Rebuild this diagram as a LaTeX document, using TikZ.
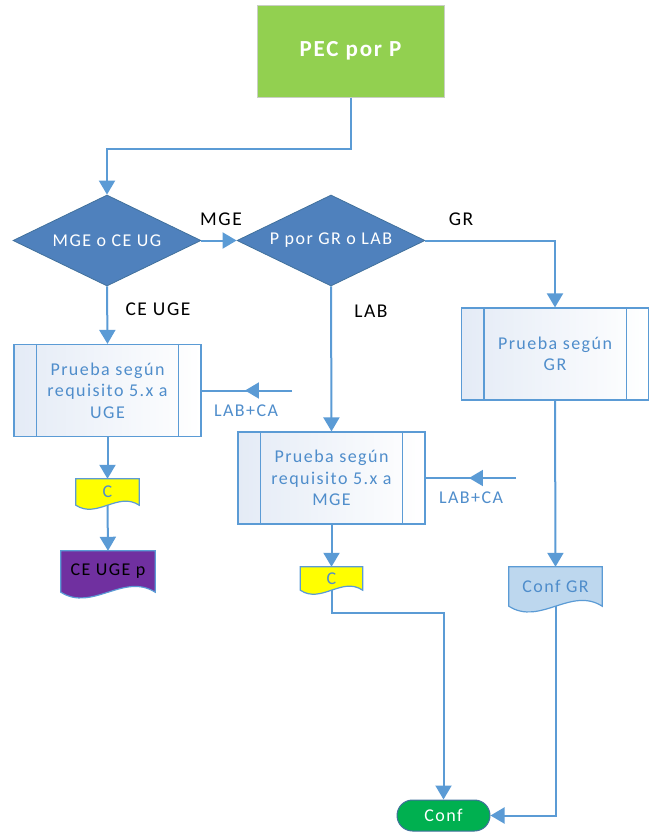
\documentclass[tikz,border=0pt]{standalone}
\usepackage{fontspec}
\setmainfont{Carlito}[LetterSpace=8]
\usetikzlibrary{arrows.meta,shapes.geometric,shapes.misc,calc,decorations.markings}
\definecolor{lnc}{HTML}{5B9BD5}
\definecolor{dia}{HTML}{4F81BD}
\definecolor{diab}{HTML}{41719C}
\definecolor{pecg}{HTML}{92D050}
\definecolor{pecb}{HTML}{C9CFC4}
\definecolor{confg}{HTML}{00B050}
\definecolor{yel}{HTML}{FFFF00}
\definecolor{purp}{HTML}{7030A0}
\definecolor{lblue}{HTML}{BDD7EE}
\definecolor{txtb}{HTML}{4F8DCB}
\definecolor{ppl}{HTML}{E4EBF6}
\pgfdeclarelayer{back}
\pgfsetlayers{back,main}
\newcommand\mydoc[4]{%
  \begin{pgfonlayer}{back}
  \path[fill=#2,draw=#3,line width=1.2pt] let \p1=(#1.south west),\p2=(#1.south east) in
    (#1.north west) -- (#1.north east) -- (\p2)
    .. controls ({\x2-(\x2-\x1)/3},{\y2+#4pt}) and ({\x1+(\x2-\x1)/3},{\y1-#4pt}) .. (\p1) -- cycle;
  \end{pgfonlayer}}
\begin{document}
\begin{tikzpicture}[x=1pt,y=-1pt,
  font=\fontsize{18}{21.5}\selectfont,
  ln/.style={draw=lnc,color=lnc,line width=2pt},
  arr/.style={ln,-{Triangle[width=16pt,length=14pt]}},
  midarr/.style={ln,postaction={decorate},decoration={markings,mark=at position 0.52 with {\arrow{Triangle[width=16pt,length=14pt]}}}},
  dec/.style={shape=diamond,aspect=2,fill=dia,draw=diab,line width=0.8pt,text=white,minimum width=188pt,minimum height=91pt,inner sep=0pt},
  pp/.style={rectangle,draw=lnc,line width=1.2pt,left color=ppl,right color=white,text=txtb,align=center,minimum width=187pt,minimum height=92pt,inner sep=0pt},
  docn/.style={rectangle,inner sep=0pt,align=center},
  lbl/.style={text=black,inner sep=0pt,font=\fontsize{19.5}{22}\selectfont},
  lblb/.style={text=txtb,inner sep=0pt},
  ppline/.style={draw=lnc,line width=1.2pt}
]
\useasboundingbox (0,0) rectangle (655,833);

% nodes
\node[rectangle,fill=pecg,draw=pecb,line width=1pt,text=white,minimum width=187pt,minimum height=92pt,font=\bfseries\fontsize{23}{27}\selectfont] (pec) at (350.5,51) {PEC por P};
\node[dec] (d1) at (107,240.5) {MGE o CE UG};
\node[dec] (d2) at (331,240.5) {P por GR o LAB};
\node[pp] (uge) at (107.5,390.5) {Prueba según\\requisito 5.x a\\UGE};
\node[pp] (mge) at (331.5,478) {Prueba según\\requisito 5.x a\\MGE};
\node[pp] (gr) at (555,354) {Prueba según\\GR};
\foreach \n in {uge,mge,gr}{
  \draw[ppline] ([xshift=23pt]\n.north west) -- ([xshift=23pt]\n.south west);
  \draw[ppline] ([xshift=-23pt]\n.north east) -- ([xshift=-23pt]\n.south east);
}
\node[docn,minimum width=63pt,minimum height=26pt,text=txtb] (c1) at (107.5,492) {C};
\mydoc{c1}{yel}{lnc}{14}
\node[docn,minimum width=94pt,minimum height=41pt,text=black] (cugep) at (108,571.5) {CE UGE p};
\mydoc{cugep}{purp}{lnc}{20}
\node[docn,minimum width=62pt,minimum height=23pt,text=txtb] (c2) at (331.5,578.5) {C};
\mydoc{c2}{yel}{lnc}{14}
\node[docn,minimum width=93pt,minimum height=39pt,text=txtb] (confgr) at (555.5,586.5) {Conf GR};
\mydoc{confgr}{lblue}{lnc}{20}
\node[shape=rounded rectangle,fill=confg,draw=diab,line width=1pt,text=white,minimum width=93pt,minimum height=31pt,inner sep=0pt] (conf) at (443.5,815.5) {Conf};

% free ends
\coordinate (in1) at (292,390.5);
\coordinate (in2) at (516,478);

% connectors
\draw[arr] (pec.south) -- ++(0,51) -| (d1.north);
\draw[arr] (d1.east) -- (d2.west);
\draw[arr] (d2.east) -| (gr.north);
\draw[arr] (d1.south) -- (uge.north);
\draw[arr] (d2.south) -- (mge.north);
\draw[midarr] (in1) -- (uge.east);
\draw[midarr] (in2) -- (mge.east);
\draw[arr] (uge.south) -- (c1.north);
\draw[arr] (c1.south) -- (cugep.north);
\draw[arr] (mge.south) -- (c2.north);
\draw[arr] (gr.south) -- (confgr.north);
\draw[arr] (c2.south) -- ++(0,23) -| (conf.north);
\draw[arr] (confgr.south) |- (conf.east);

% labels
\node[lbl] (lmge) at (221,219) {MGE};
\node[lbl] (lceuge) at (158,309.5) {CE UGE};
\node[lbl] (lgr) at (461,219.5) {GR};
\node[lbl] (llab) at (371,311) {LAB};
\node[lblb] (llabca1) at (246,410.5) {LAB+CA};
\node[lblb] (llabca2) at (471,498) {LAB+CA};
\end{tikzpicture}
\end{document}
